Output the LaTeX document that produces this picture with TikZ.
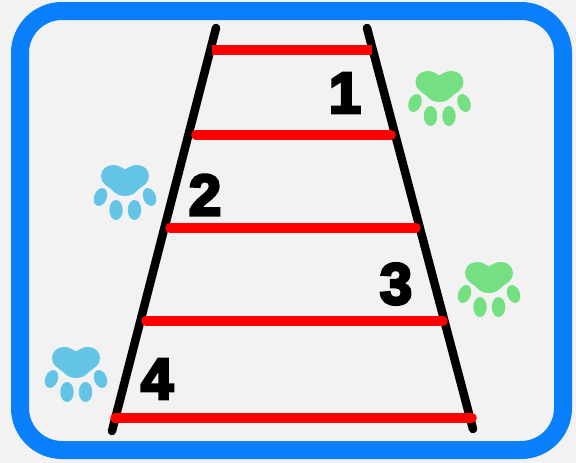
\documentclass[tikz,border=0pt]{standalone}
\usepackage{fontspec}
\newfontfamily\numfont[FakeBold=5]{Liberation Sans Bold}
\definecolor{bg}{HTML}{F2F2F2}
\definecolor{frameblue}{HTML}{0A7FFC}
\definecolor{rung}{HTML}{FF0000}
\definecolor{pawgreen}{HTML}{74E082}
\definecolor{pawblue}{HTML}{63C4E6}
\tikzset{
  x=1pt,y=-1pt,
  rail/.style={line width=8.5pt,line cap=round,black},
  rungline/.style={line width=9.5pt,line cap=round,rung},
  num/.style={font=\numfont\fontsize{58}{58}\selectfont,inner sep=0pt,text=black},
  paw/.pic={
    \fill (0,4.5) .. controls (-4,2) and (-7,0) .. (-12,0)
      .. controls (-19,0) and (-24,5) .. (-24,11)
      .. controls (-24,18) and (-18,21) .. (-14,24)
      .. controls (-10,28) and (-7,31) .. (0,31)
      .. controls (7,31) and (10,28) .. (14,24)
      .. controls (18,21) and (24,18) .. (24,11)
      .. controls (24,5) and (19,0) .. (12,0)
      .. controls (7,0) and (4,2) .. (0,4.5) -- cycle;
    \fill[rotate around={-22:(-24.5,32)}] (-24.5,32) ellipse [x radius=6.3, y radius=9.3];
    \fill[rotate around={22:(24.5,32)}] (24.5,32) ellipse [x radius=6.3, y radius=9.3];
    \fill (-9,45) ellipse [x radius=6.7, y radius=10];
    \fill (9.5,45) ellipse [x radius=6.7, y radius=10];
  }
}
\begin{document}
\begin{tikzpicture}
\useasboundingbox (0,0) rectangle (576,463);
\fill[bg] (0,0) rectangle (576,463);
\draw[frameblue,line width=18pt,rounded corners=42pt] (20,11) rectangle (563,450);
% rails
\coordinate (lt) at (216,28);
\coordinate (lb) at (112,431);
\coordinate (rt) at (367,28);
\coordinate (rb) at (473,429);
\draw[rail] (lt) -- (lb);
\draw[rail] (rt) -- (rb);
% rungs
\draw[rungline,line cap=butt] (212,50) -- (372,50);
\foreach \y/\a/\b in {135/196/391,228/170/416,321/146/443,418/115/472}
  \draw[rungline] (\a,\y) -- (\b,\y);
% numbers
\node[num] (n1) at (345,93) {1};
\node[num] (n2) at (205,195) {2};
\node[num] (n3) at (396,284) {3};
\node[num] (n4) at (157,379) {4};
% paws
\pic[fill=pawgreen] at (439.5,71) {paw};
\pic[fill=pawgreen] at (489,262) {paw};
\pic[fill=pawblue] at (125,165) {paw};
\pic[fill=pawblue] at (76,347) {paw};
\end{tikzpicture}
\end{document}
